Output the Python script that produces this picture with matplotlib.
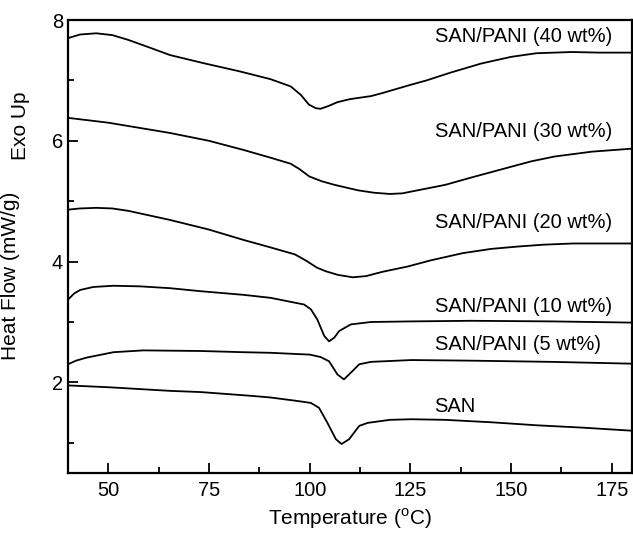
import matplotlib
matplotlib.use('Agg')
import matplotlib.pyplot as plt
from matplotlib.ticker import MultipleLocator

plt.rcParams['font.family'] = ['Liberation Sans', 'DejaVu Sans']

# DSC curves (temperature in C, heat flow in mW/g, shifted)
t_40 = [40, 43, 47, 51, 55, 60, 65.3, 74, 82.6, 90.3, 95.3, 97.8, 99.8, 101.5, 102.7, 104.8, 106.9, 110, 115.2, 118, 125.2, 129, 135, 142.6, 150, 156.3, 165, 172, 180]
y_40 = [7.70, 7.76, 7.78, 7.75, 7.67, 7.55, 7.42, 7.28, 7.15, 7.02, 6.90, 6.76, 6.60, 6.54, 6.53, 6.58, 6.64, 6.69, 6.74, 6.79, 6.93, 7.00, 7.13, 7.28, 7.39, 7.45, 7.47, 7.46, 7.46]

t_30 = [40, 50, 65.3, 75, 83.5, 90.3, 95.3, 97.5, 99.9, 103, 106.2, 112, 116, 119.9, 123, 126, 133.6, 140, 147.2, 155, 160.8, 170, 180]
y_30 = [6.38, 6.30, 6.13, 6.00, 5.85, 5.72, 5.62, 5.53, 5.41, 5.33, 5.27, 5.18, 5.14, 5.12, 5.13, 5.17, 5.27, 5.39, 5.52, 5.66, 5.74, 5.82, 5.87]

t_20 = [40, 43, 47, 51, 55, 65.3, 75, 83.5, 90, 96.3, 99, 101.8, 104, 107, 110.7, 114, 118, 124.4, 130, 138, 145, 151.8, 158, 165.4, 172, 180]
y_20 = [4.86, 4.88, 4.89, 4.88, 4.84, 4.69, 4.53, 4.36, 4.24, 4.12, 4.02, 3.90, 3.84, 3.78, 3.74, 3.76, 3.83, 3.92, 4.02, 4.14, 4.21, 4.25, 4.28, 4.30, 4.30, 4.30]

t_10 = [40, 41.5, 43, 46.3, 51.3, 57.9, 65.3, 72.9, 83.5, 90.3, 96.3, 98.6, 100.3, 101.9, 103.6, 104.8, 106.1, 107.3, 110.2, 115.2, 125.2, 140, 160, 180]
y_10 = [3.37, 3.47, 3.53, 3.58, 3.60, 3.59, 3.56, 3.51, 3.45, 3.40, 3.32, 3.29, 3.21, 3.04, 2.77, 2.68, 2.74, 2.85, 2.96, 3.00, 3.01, 3.02, 3.01, 2.99]

t_5 = [40, 42, 44.6, 51.3, 58.7, 72.9, 83.5, 90.3, 100, 102.7, 104.8, 106.9, 108.5, 110.2, 112.3, 115.2, 125.2, 140, 160, 180]
y_5 = [2.30, 2.36, 2.41, 2.50, 2.53, 2.52, 2.50, 2.49, 2.46, 2.42, 2.35, 2.13, 2.05, 2.16, 2.30, 2.34, 2.37, 2.36, 2.34, 2.31]

t_san = [40, 50, 65.3, 72.9, 85, 90.3, 97.2, 100.3, 102.3, 104.4, 106.5, 107.9, 109.8, 112.3, 114.4, 119.9, 125.2, 133.6, 145, 156.3, 168, 180]
y_san = [1.95, 1.92, 1.86, 1.84, 1.78, 1.75, 1.69, 1.66, 1.58, 1.33, 1.06, 0.98, 1.06, 1.28, 1.33, 1.38, 1.39, 1.38, 1.34, 1.29, 1.25, 1.20]

labels = ['SAN/PANI (40 wt%)', 'SAN/PANI (30 wt%)', 'SAN/PANI (20 wt%)',
          'SAN/PANI (10 wt%)', 'SAN/PANI (5 wt%)', 'SAN']
label_y = [7.72, 6.15, 4.64, 3.26, 2.63, 1.60]

fig = plt.figure(figsize=(6.33, 5.35), dpi=100)
ax = fig.add_axes([0.1074, 0.1159, 0.8910, 0.8467])

for t, y in [(t_40, y_40), (t_30, y_30), (t_20, y_20), (t_10, y_10), (t_5, y_5), (t_san, y_san)]:
    ax.plot(t, y, color='black', lw=1.3)

for lab, yy in zip(labels, label_y):
    ax.text(131.0, yy, lab, fontsize=14.5, va='center', ha='left')

ax.set_xlim(40, 180)
ax.set_ylim(0.5, 8)
ax.xaxis.set_major_locator(MultipleLocator(25))
ax.xaxis.set_minor_locator(MultipleLocator(12.5))
ax.yaxis.set_major_locator(MultipleLocator(2))
ax.yaxis.set_minor_locator(MultipleLocator(1))
ax.tick_params(which='both', direction='in', width=1.3, labelsize=14.5)
ax.tick_params(which='major', length=7)
ax.tick_params(which='minor', length=4)
ax.tick_params(axis='x', pad=6)
for s in ax.spines.values():
    s.set_linewidth(1.6)

ax.set_xlabel('Temperature ($^{\\mathregular{o}}$C)', fontsize=15, labelpad=4)
ax.set_ylabel('Heat Flow (mW/g)', fontsize=15)
ax.yaxis.set_label_coords(-0.085, 0.435)
fig.text(0.032, 0.765, 'Exo Up', rotation=90, fontsize=15, ha='center', va='center')

fig.savefig('out.png', dpi=100)
